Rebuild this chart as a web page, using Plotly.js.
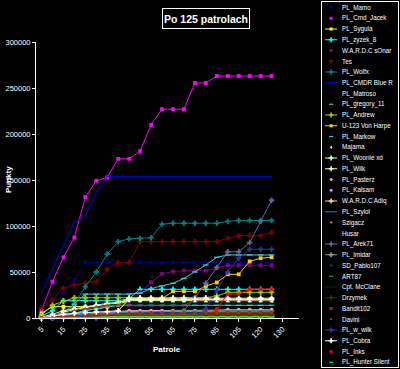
<!DOCTYPE html>
<html><head><meta charset="utf-8">
<script src="https://cdn.plot.ly/plotly-3.0.1.min.js"></script>
<style>html,body{margin:0;padding:0;background:#000;}#chart{width:400px;height:369px;}</style>
</head><body><div id="chart"></div>
<script>
// categories (patrol counts); data exists for the first 22
const patrols = ['5','10','15','20','25','30','35','40','45','50','55','60','65','70','75','80','85','95','105','110','120','125','130','135'];

const names = ['PL_Mamo','PL_Cmd_Jacek','PL_Sygula','PL_zyzek_8','W.A.R.D.C sOnar','Tes','PL_Wolfx','PL_CMDR Blue R','PL_Matroso','PL_gregory_11','PL_Andrew','U-123 Von Harpe','PL_Markow','Majama','PL_Woonie xd','PL_Wilk','PL_Pasterz','PL_Kalsam','W.A.R.D.C Adiq','PL_Szylol','Szigacz','Husar','PL_Arek71','PL_Imidar','SD_Pablo107','ART87','Cpt. McClane','Drzymek','Bandit102','Davini','PL_w_wilk','PL_Cobra','PL_Inks','PL_Hunter Silent'];

const s01 = [3000,15000,28000,41000,60500,60500,60500,60500,60500,60500,60500,60500,60500,60500,60500,60500,60500,60500,60500,60500,60500,60500];
const s02 = [8000,39500,66000,87500,131500,149000,153000,173000,173000,181500,210000,227000,227000,227000,255500,255500,263000,263000,263000,263000,263000,263000];
const s03 = [5000,12300,12300,12300,12300,12300,13000,15000,18800,18800,18800,18800,18800,18800,18800,18800,18800,18800,18800,18800,18800,18800];
const s04 = [2000,8000,18800,18800,18800,18800,18800,18800,21000,31200,31200,31200,31200,31200,31200,31200,31200,31200,31200,31200,31200,31200];
const s05 = [1000,3000,6000,9000,11000,13000,14000,15000,16000,28000,39000,48000,50500,51400,51400,51400,54000,57300,57300,57300,57300,57300];
const s06 = [11000,19500,32600,36000,38000,39500,53000,60000,60000,83000,83000,83000,83000,83000,83000,83000,83000,86600,89500,89500,89500,93000];
const s07 = [0,0,1000,15000,34000,50000,69500,83000,86000,86600,87300,102000,103000,103000,103000,103000,103000,105000,106000,106000,106000,106000];
const s08 = [27000,54000,79000,104000,111000,137000,154000,154000,154000,154000,154000,154000,154000,154000,154000,154000,154000,154000,154000,154000,154000,154000];
const s09 = [0,0,0,0,0,0,0,0,0,0,0,0,0,0,0,0,0,0,0,0,0,0];
const s10 = [0,0,5000,15000,26000,26000,26000,26000,26000,27000,32000,35000,37700,43000,50000,57600,66000,68500,68500,68500,68500,68500];
const s11 = [3000,14000,18000,22000,22000,22000,22000,22000,22000,22000,22000,22000,22000,22000,22000,22000,24000,27900,27900,27900,27900,27900];
const s12 = [0,0,2000,5000,8000,10000,12000,14000,20600,21000,21000,21000,29000,29000,29000,34800,38600,47500,47500,61500,65000,66000];
const s13 = [0,1000,3000,5000,8000,10000,12000,13800,13800,13800,13800,13800,13800,13800,13800,13800,13800,13800,13800,13800,13800,13800];
const s14 = [0,0,500,1000,1000,1500,1500,1500,2000,2000,2000,2000,2000,2000,2000,2000,2000,2000,2000,2000,2000,2000];
const s15 = [1000,4000,8000,10000,12000,14000,16000,17000,19500,19500,19500,19500,19500,19500,19500,19500,19500,19500,19500,19500,19500,19500];
const s16 = [0,2000,6000,9000,11000,13000,15000,16000,21500,21500,21500,21500,21500,21500,21500,21500,21500,21500,21500,21500,21500,21500];
const s17 = [0,1000,2000,3000,4000,5000,6000,7000,8000,8000,8000,8000,8000,8000,8000,8000,8500,9000,9000,9000,9000,9000];
const s18 = [0,500,1500,2500,3500,4500,5500,6500,7000,7000,7000,7000,7000,7000,7000,7000,7000,7600,7600,7600,7600,7600];
const s19 = [0,500,1000,1500,2000,2500,3000,3000,3500,3500,3500,3500,3500,3500,3500,3500,3500,3500,3500,3500,3500,3500];
const s20 = [0,1000,2000,3000,4000,5000,5400,5400,5400,5400,5400,5400,5400,5400,5400,5400,5400,5400,5400,5400,5400,5400];
const s21 = [0,0,500,1000,1000,1500,1500,2000,2000,2000,2000,2000,2000,2000,2000,2000,2000,2000,2000,2000,2000,2000];
const s22 = [0,0,0,0,0,0,0,0,0,0,0,0,0,0,0,0,0,0,0,0,0,0];
const s23 = [0,0,0,0,0,0,0,0,0,0,0,0,0,8000,22000,38000,55000,72000,72000,82000,105000,128000];
const s24 = [0,0,500,800,1000,1200,1500,1800,2000,2000,2000,2000,2000,2000,2000,2000,2000,2000,2000,2000,2000,2000];
const s25 = [0,500,1000,1500,2000,2500,3000,3000,3000,3000,3000,3000,3000,3000,3000,3000,3000,3000,3000,3000,3000,3000];
const s26 = [0,0,1000,2000,3000,4000,5000,5500,6000,6500,7000,7000,7600,7600,7600,7600,7600,7600,7600,7600,7600,7600];
const s27 = [0,2000,5000,8000,10000,12000,14000,15000,16300,16300,16300,16300,16300,16300,16300,16300,16300,16300,16300,16300,16300,16300];
const s28 = [0,1000,2000,2500,3000,3500,4000,4000,4000,4000,4000,4000,4000,4000,4000,4000,4000,4000,4000,4000,4000,4000];
const s29 = [0,500,1000,2000,3000,3500,4000,4300,4300,4300,4300,4300,4300,4300,4300,5800,5800,5800,5800,5800,5800,5800];
const s30 = [0,2000,5000,8000,10000,12000,13400,13400,13400,13400,13400,13400,13400,13400,19500,19500,19500,19500,19500,19500,19500,19500];
const s31 = [0,0,0,0,0,0,0,0,0,0,0,0,0,0,0,10000,30000,50000,65000,74700,74700,74700];
const s32 = [0,2000,4000,5000,6000,6500,7000,8000,20300,20300,20300,20300,20300,20300,20300,20300,20300,20300,20300,20300,20300,20300];
const s33 = [0,0,0,0,0,0,0,0,0,0,0,0,0,0,0,0,10000,26000,26000,31500,31500,31500];
const s34 = [0,0,0,500,500,500,800,1000,1000,1000,1000,1000,1000,1000,1000,1000,1000,1000,1000,1000,1000,1000];

const series = [s01,s02,s03,s04,s05,s06,s07,s08,s09,s10,s11,s12,s13,s14,s15,s16,s17,s18,s19,s20,s21,s22,s23,s24,s25,s26,s27,s28,s29,s30,s31,s32,s33,s34];

const colors = ['#000080','#ff00ff','#ffff00','#00ffff','#800080','#800000','#008080','#0000ff','#000000','#33cccc','#99cc00','#ffcc00','#00ccff','#ccffff','#ccffcc','#ffff99','#ff99cc','#cc99ff','#ffcc99','#3366ff','#ff9900','#000000','#666699','#969696','#003366','#339966','#003300','#333300','#993300','#993366','#333399','#ffffff','#ff0000','#00ff00'];
const symbols = ['diamond','square','square','cross','square','cross','cross','none','none','line-ew','cross','square','line-ew','triangle-left','cross','cross','circle','circle','cross','none','triangle-up','none','cross','cross','circle','line-ew','none','cross','square','triangle-up','cross','cross','circle','line-ew'];
// whether the legend sample shows its line (as it appears in the picture)
const legendLine = [0,0,1,1,0,0,1,1,0,0,1,1,0,0,1,1,0,0,1,1,0,0,1,1,0,0,1,1,0,0,1,1,0,0];

const W = 400, H = 369;
const FONT = 'Liberation Sans, Arial, sans-serif';
function markerSize(sym, legend) {
  if (sym === 'cross') return legend ? 4 : 4.5;
  if (sym === 'line-ew') return legend ? 3 : 4;
  return legend ? 3 : 3.8;
}
const traces = [];
series.forEach((vals, k) => {
  const sym = symbols[k];
  const t = {
    type: 'scatter', x: patrols.slice(0, vals.length), y: vals,
    mode: sym === 'none' ? 'lines' : 'lines+markers',
    line: {color: colors[k], width: 1},
    cliponaxis: false, hoverinfo: 'skip', showlegend: false,
    xaxis: 'x', yaxis: 'y'
  };
  if (sym !== 'none') {
    t.marker = {symbol: sym, size: markerSize(sym, false), color: colors[k],
      line: {width: sym === 'line-ew' ? 1.3 : 0, color: colors[k]}};
  }
  traces.push(t);
});

// custom legend drawn on its own overlay axes
const legendAnn = [];
names.forEach((nm, k) => {
  const yy = 5.5 + 10.75 * k;
  if (legendLine[k]) {
    traces.push({type: 'scatter', x: [0.04, 0.2], y: [yy, yy], mode: 'lines',
      line: {color: colors[k], width: 1}, xaxis: 'x2', yaxis: 'y2', hoverinfo: 'skip', showlegend: false});
  }
  if (symbols[k] !== 'none') {
    const sym = symbols[k];
    traces.push({type: 'scatter', x: [0.12], y: [yy], mode: 'markers',
      marker: {symbol: sym, size: markerSize(sym, true), color: colors[k],
        line: {width: sym === 'line-ew' ? 1.2 : 0, color: colors[k]}},
      xaxis: 'x2', yaxis: 'y2', hoverinfo: 'skip', showlegend: false, cliponaxis: false});
  }
  legendAnn.push({xref: 'x2', yref: 'y2', x: 0.235, y: yy, xanchor: 'left', yanchor: 'middle',
    text: nm, showarrow: false, font: {family: FONT, size: 6.3, color: '#ffffff'}});
});

const layout = {
  width: W, height: H,
  margin: {l: 0, r: 0, t: 0, b: 0, pad: 0},
  paper_bgcolor: '#000000', plot_bgcolor: '#000000',
  showlegend: false,
  xaxis: {
    domain: [36 / W, 299 / W], anchor: 'y',
    type: 'category', categoryorder: 'array', categoryarray: patrols,
    range: [-0.5, patrols.length - 0.5],
    tickmode: 'array', tickvals: patrols.filter((_, i) => i % 2 === 0), ticktext: patrols.filter((_, i) => i % 2 === 0),
    tickangle: -45, tickfont: {family: FONT, size: 7.5, color: '#ffffff'},
    showline: true, linecolor: '#ffffff', linewidth: 1,
    ticks: 'outside', ticklen: 3, tickcolor: '#ffffff', tickwidth: 1,
    showgrid: false, zeroline: false, fixedrange: true
  },
  yaxis: {
    domain: [(H - 318) / H, (H - 42) / H], anchor: 'x',
    range: [0, 300000], dtick: 50000, tick0: 0, tickformat: 'd',
    tickfont: {family: FONT, size: 7.5, color: '#ffffff'},
    showline: true, linecolor: '#ffffff', linewidth: 1,
    ticks: 'outside', ticklen: 3, tickcolor: '#ffffff', tickwidth: 1,
    showgrid: false, zeroline: false, fixedrange: true
  },
  xaxis2: {
    domain: [322 / W, 398 / W], anchor: 'y2', range: [0, 1],
    showline: true, mirror: true, linecolor: '#ffffff', linewidth: 1,
    showticklabels: false, ticks: '', showgrid: false, zeroline: false, fixedrange: true
  },
  yaxis2: {
    domain: [(H - 367) / H, (H - 2) / H], anchor: 'x2', range: [365, 0],
    showline: true, mirror: true, linecolor: '#ffffff', linewidth: 1,
    showticklabels: false, ticks: '', showgrid: false, zeroline: false, fixedrange: true
  },
  annotations: [
    {xref: 'paper', yref: 'paper', x: 205.5 / W, y: 1 - 19 / H, xanchor: 'center', yanchor: 'middle',
     text: 'Po 125 patrolach', showarrow: false, width: 86, height: 19,
     font: {family: FONT, size: 10.5, color: '#ffffff', weight: 'bold'},
     bgcolor: '#000000', bordercolor: '#ffffff', borderwidth: 1, borderpad: 0},
    {xref: 'paper', yref: 'paper', x: 8 / W, y: 1 - 180 / H, xanchor: 'center', yanchor: 'middle',
     text: 'Punkty', textangle: -90, showarrow: false,
     font: {family: FONT, size: 8, color: '#ffffff', weight: 'bold'}},
    {xref: 'paper', yref: 'paper', x: 167 / W, y: 1 - 349 / H, xanchor: 'center', yanchor: 'middle',
     text: 'Patrole', showarrow: false,
     font: {family: FONT, size: 8, color: '#ffffff', weight: 'bold'}}
  ].concat(legendAnn)
};

Plotly.newPlot('chart', traces, layout, {staticPlot: true, displayModeBar: false});
</script>
</body></html>
